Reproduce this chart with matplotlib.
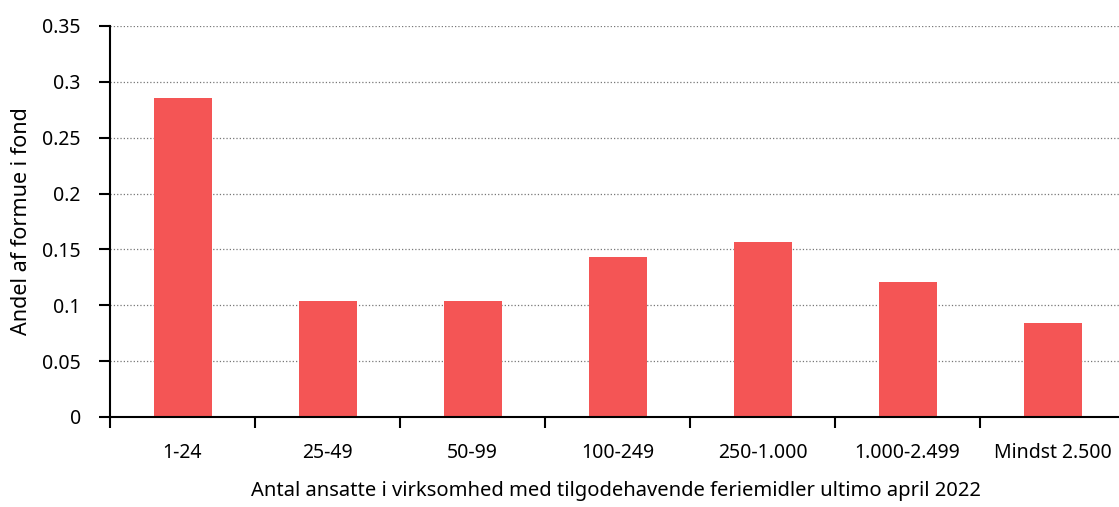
import numpy as np
import matplotlib.pyplot as plt

# Data
categories = ["1-24", "25-49", "50-99", "100-249", "250-1.000", "1.000-2.499", "Mindst 2.500"]
values = [0.2855, 0.1038, 0.1038, 0.1432, 0.1566, 0.1208, 0.0841]
yticks = [0, 0.05, 0.1, 0.15, 0.2, 0.25, 0.3, 0.35]
ytick_labels = ["0", "0.05", "0.1", "0.15", "0.2", "0.25", "0.3", "0.35"]

plt.rcParams['font.family'] = ['Noto Sans', 'DejaVu Sans']

fig = plt.figure(figsize=(11.19, 5.07), dpi=100)
W, H = 1119, 507
ax = fig.add_axes([110 / W, 1 - 417 / H, (1125 - 110) / W, (417 - 26) / H])

x = np.arange(len(categories))
ax.bar(x, values, width=0.4, color='#F45555', zorder=3)

ax.set_xlim(-0.5, len(categories) - 0.5)
ax.set_ylim(0, 0.35)
ax.set_yticks(yticks)
ax.set_yticklabels(ytick_labels, fontsize=14)

# tick marks at category boundaries, labels at centres
ax.set_xticks(np.arange(len(categories)) - 0.5)
ax.set_xticklabels([])
ax.set_xticks(x, minor=True)
ax.set_xticklabels(categories, minor=True, fontsize=14)
ax.tick_params(axis='x', which='major', length=8, width=1.5, direction='out')
ax.tick_params(axis='x', which='minor', length=0, pad=19)
ax.tick_params(axis='y', length=8, width=1.5, pad=13)

ax.grid(axis='y', linestyle=':', color='#777777', linewidth=0.9, zorder=0)
for s in ['top', 'right']:
    ax.spines[s].set_visible(False)
ax.spines['left'].set_linewidth(1.5)
ax.spines['bottom'].set_linewidth(1.5)
ax.spines['bottom'].set_zorder(4)

ax.set_ylabel("Andel af formue i fond", fontsize=15.5)
ax.set_xlabel("Antal ansatte i virksomhed med tilgodehavende feriemidler ultimo april 2022",
              fontsize=14.5)
ax.yaxis.set_label_coords(-78 / (1125 - 110), 0.5)
ax.xaxis.set_label_coords((616 - 110) / (1125 - 110), -64 / (417 - 26))

fig.savefig("out.png", dpi=100)
